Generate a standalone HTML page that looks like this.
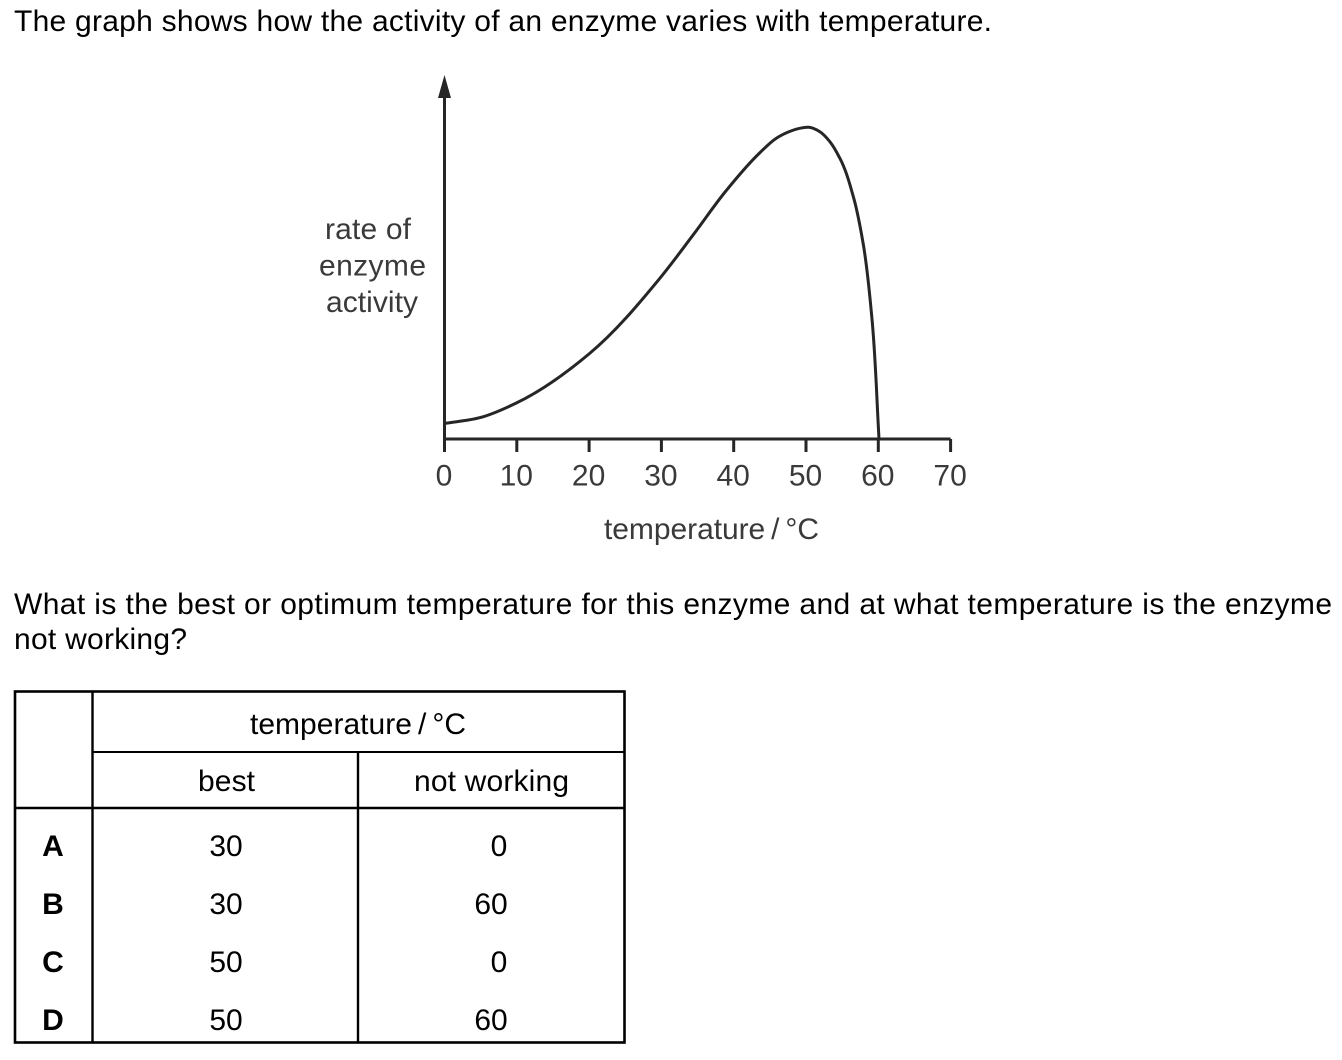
<!DOCTYPE html>
<html lang="en">
<head>
<meta charset="utf-8">
<title>Enzyme activity question</title>
<style>
html,body{margin:0;padding:0;background:#fff;width:1342px;height:1060px;overflow:hidden}
svg{display:block;position:absolute;left:0;top:0}
text{font-family:"Liberation Sans",sans-serif;font-size:30px;fill:#000}
.g{fill:#3a3a3a}
.b{font-weight:bold}
.m{text-anchor:middle}
</style>
</head>
<body>
<svg width="1342" height="1060" viewBox="0 0 1342 1060">
  <text x="14" y="31" textLength="978" lengthAdjust="spacing">The graph shows how the activity of an enzyme varies with temperature.</text>

  <g id="chart">
    <text class="g" x="325" y="239" textLength="86" lengthAdjust="spacing">rate of</text>
    <text class="g" x="319" y="275.5" textLength="107" lengthAdjust="spacing">enzyme</text>
    <text class="g" x="326" y="312" textLength="92" lengthAdjust="spacing">activity</text>
    <text class="g" x="604" y="539" textLength="215" lengthAdjust="spacing">temperature&#8201;/&#8201;°C</text>
  </g>

  <text x="14" y="614" textLength="1318" lengthAdjust="spacing">What is the best or optimum temperature for this enzyme and at what temperature is the enzyme</text>
  <text x="14" y="649" textLength="173" lengthAdjust="spacing">not working?</text>

  <g>
    <rect x="15" y="691.5" width="609.5" height="351" fill="none" stroke="#000" stroke-width="2.6"/>
    <line x1="92.5" y1="691.5" x2="92.5" y2="1042.5" stroke="#000" stroke-width="2.4"/>
    <line x1="358" y1="752" x2="358" y2="1042.5" stroke="#000" stroke-width="2.4"/>
    <line x1="92.5" y1="752" x2="624.5" y2="752" stroke="#000" stroke-width="2"/>
    <line x1="15" y1="808" x2="624.5" y2="808" stroke="#000" stroke-width="2.6"/>

    <text x="250" y="734" textLength="216" lengthAdjust="spacing">temperature&#8201;/&#8201;°C</text>
    <text x="198" y="791" textLength="57" lengthAdjust="spacing">best</text>
    <text x="414" y="791" textLength="155" lengthAdjust="spacing">not working</text>

    <text class="b m" x="53" y="856">A</text>
    <text class="m" x="226" y="856">30</text>
    <text class="m" x="499" y="856">0</text>

    <text class="b m" x="53" y="914">B</text>
    <text class="m" x="226" y="914">30</text>
    <text class="m" x="491" y="914">60</text>

    <text class="b m" x="53" y="972">C</text>
    <text class="m" x="226" y="972">50</text>
    <text class="m" x="499" y="972">0</text>

    <text class="b m" x="53" y="1030">D</text>
    <text class="m" x="226" y="1030">50</text>
    <text class="m" x="491" y="1030">60</text>
  </g>
</svg>
<script>
var temperatures = [0, 5, 9.9, 20, 29.8, 34.4, 39, 43.6, 45.9, 48, 49.4, 50.4, 51.9, 53.3, 54.7, 56.6, 57.9, 59.1, 60.1];
var activity = [5, 6.9, 11.5, 27.3, 51.6, 65.5, 79.8, 91.8, 96.5, 98.9, 99.8, 100, 98.6, 95.4, 90, 77.3, 62.8, 39.2, 0];
var xTickValues = [0, 10, 20, 30, 40, 50, 60, 70];
var xTickLabels = ['0', '10', '20', '30', '40', '50', '60', '70'];

var SVG_NS = 'http://www.w3.org/2000/svg';
var chart = document.getElementById('chart');
function xScale(t) { return 444.5 + t * 7.23; }
function yScale(a) { return 439 - a * 3.117; }
function addLine(x1, y1, x2, y2, w) {
  var l = document.createElementNS(SVG_NS, 'line');
  l.setAttribute('x1', x1);
  l.setAttribute('y1', y1);
  l.setAttribute('x2', x2);
  l.setAttribute('y2', y2);
  l.setAttribute('stroke', '#262626');
  l.setAttribute('stroke-width', w);
  chart.appendChild(l);
  return l;
}

var yAxis = addLine(xScale(0), yScale(0) + 13, xScale(0), 96, 3);



var arrow = document.createElementNS(SVG_NS, 'polygon');
arrow.setAttribute('points', '444.5,75 451,98 438,98');
arrow.setAttribute('fill', '#262626');


chart.appendChild(arrow);

var xAxis = addLine(xScale(0), yScale(0), xScale(xTickValues[xTickValues.length - 1]), yScale(0), 3);



xTickValues.forEach(function (t, i) {
  var tick = addLine(xScale(t), yScale(0), xScale(t), yScale(0) + 13, 3);
  
  
  var label = document.createElementNS(SVG_NS, 'text');
  label.setAttribute('x', xScale(t) - 0.5);
  label.setAttribute('y', 485.5);
  label.setAttribute('class', 'g m');
  
  
  label.textContent = xTickLabels[i];
  chart.appendChild(label);
});

var pts = temperatures.map(function (t, i) { return [xScale(t), yScale(activity[i])]; });
function chord(a, b) { return Math.sqrt(Math.pow(b[0] - a[0], 2) + Math.pow(b[1] - a[1], 2)); }
var tangents = pts.map(function (p, i) {
  if (i === 0) {
    var d0 = chord(p, pts[1]);
    return [(pts[1][0] - p[0]) / d0, (pts[1][1] - p[1]) / d0];
  }
  if (i === pts.length - 1) {
    var dn = chord(pts[i - 1], p);
    return [(p[0] - pts[i - 1][0]) / dn, (p[1] - pts[i - 1][1]) / dn];
  }
  var a = chord(pts[i - 1], p), b = chord(p, pts[i + 1]);
  return [
    ((p[0] - pts[i - 1][0]) / a * b + (pts[i + 1][0] - p[0]) / b * a) / (a + b),
    ((p[1] - pts[i - 1][1]) / a * b + (pts[i + 1][1] - p[1]) / b * a) / (a + b)
  ];
});
var d = 'M' + pts[0][0].toFixed(2) + ' ' + pts[0][1].toFixed(2);
for (var i = 0; i < pts.length - 1; i++) {
  var len = chord(pts[i], pts[i + 1]) / 3;
  d += 'C' + (pts[i][0] + tangents[i][0] * len).toFixed(2) + ' ' + (pts[i][1] + tangents[i][1] * len).toFixed(2) +
       ' ' + (pts[i + 1][0] - tangents[i + 1][0] * len).toFixed(2) + ' ' + (pts[i + 1][1] - tangents[i + 1][1] * len).toFixed(2) +
       ' ' + pts[i + 1][0].toFixed(2) + ' ' + pts[i + 1][1].toFixed(2);
}
var curve = document.createElementNS(SVG_NS, 'path');
curve.setAttribute('d', d);
curve.setAttribute('fill', 'none');
curve.setAttribute('stroke', '#262626');
curve.setAttribute('stroke-width', '3');


chart.appendChild(curve);
</script>
</body>
</html>
